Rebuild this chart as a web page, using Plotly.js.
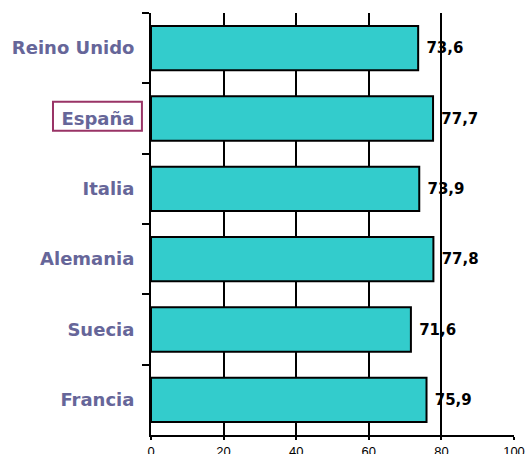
<!DOCTYPE html>
<html><head><meta charset="utf-8">
<script src="https://cdn.plot.ly/plotly-3.0.1.min.js"></script>
<style>html,body{margin:0;padding:0;background:#fff;}</style>
</head><body>
<div id="chart" style="width:526px;height:454px;"></div>
<script>
const countries = ["Reino Unido", "España", "Italia", "Alemania", "Suecia", "Francia"];
const values = [73.6, 77.7, 73.9, 77.8, 71.6, 75.9];
const xTicks = [0, 20, 40, 60, 80, 100];
const highlighted = "España";

const hIdx = countries.indexOf(highlighted);

const trace = {
  type: "bar",
  orientation: "h",
  y: countries,
  x: values,
  marker: {color: "#33CCCC", line: {color: "#000000", width: 2}},
  text: values.map(v => "\u00a0" + v.toFixed(1).replace(".", ",")),
  textposition: "outside",
  cliponaxis: false,
  textfont: {family: "DejaVu Sans", size: 15, color: "#000000", weight: "bold"},
  hoverinfo: "none"
};

const layout = {
  width: 526, height: 454,
  margin: {l: 151, r: 12, t: 13, b: 19},
  paper_bgcolor: "#ffffff", plot_bgcolor: "#ffffff",
  showlegend: false,
  bargap: 0.37,
  xaxis: {
    range: [0, 100],
    tickvals: xTicks,
    showgrid: true, gridcolor: "#000000", gridwidth: 2,
    zeroline: false,
    showline: true, linecolor: "#000000", linewidth: 2,
    ticks: "outside", ticklen: 3, tickwidth: 2, tickcolor: "#000000",
    tickfont: {family: "Liberation Sans", size: 13, color: "#000000"},
    fixedrange: true
  },
  yaxis: {
    type: "category",
    autorange: "reversed",
    showline: true, linecolor: "#000000", linewidth: 2,
    ticks: "outside", tickson: "boundaries", ticklen: 7, tickwidth: 2, tickcolor: "#000000",
    ticklabelstandoff: 11,
    tickfont: {family: "DejaVu Sans", size: 18, color: "#666699", weight: "bold"},
    showgrid: false,
    fixedrange: true
  },
  shapes: [{
    type: "rect", xref: "paper", yref: "y",
    x0: -0.270, x1: -0.025,
    y0: hIdx - 0.238, y1: hIdx + 0.174,
    line: {color: "#993366", width: 2},
    fillcolor: "rgba(0,0,0,0)"
  }]
};

Plotly.newPlot("chart", [trace], layout, {staticPlot: true, displayModeBar: false});
</script>
</body></html>
